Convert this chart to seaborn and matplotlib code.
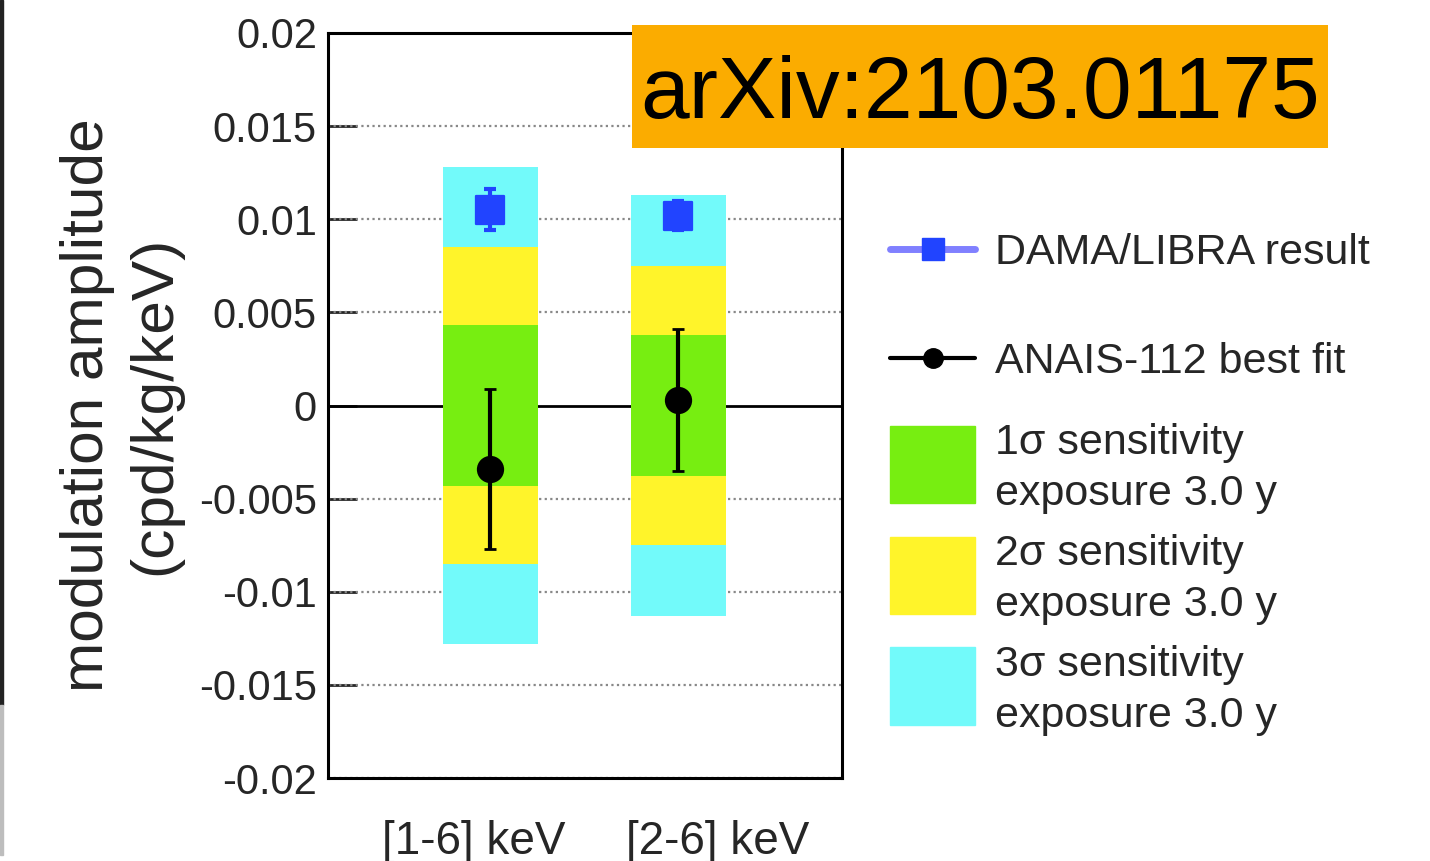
import numpy as np
import pandas as pd
import seaborn as sns
import matplotlib.pyplot as plt
from matplotlib.lines import Line2D
from matplotlib.patches import Rectangle
from matplotlib.legend_handler import HandlerPatch, HandlerLine2D
from matplotlib.transforms import ScaledTranslation

# data
ranges = ["[1-6] keV", "[2-6] keV"]
sigma1 = [0.0043, 0.0038]
sigma2 = [0.0085, 0.0075]
sigma3 = [0.0128, 0.0113]
dama_val = [0.0105, 0.0102]
dama_err = [0.0011, 0.0008]
anais_val = [-0.0034, 0.0003]
anais_err = [0.0043, 0.0038]
yticks = [-0.02, -0.015, -0.01, -0.005, 0, 0.005, 0.01, 0.015, 0.02]
yticklabels = ["-0.02", "-0.015", "-0.01", "-0.005", "0", "0.005", "0.01", "0.015", "0.02"]

c_green = "#77ee11"
c_yellow = "#fff42a"
c_cyan = "#72fafa"
c_blue = "#2144ff"

sns.set_style("white")
plt.rcParams['font.family'] = ['Liberation Sans', 'DejaVu Sans']

fig = plt.figure(figsize=(14.3, 8.61), dpi=100)
ax = fig.add_axes([328/1430, 1-778/861, 514/1430, 745/861])

x = np.arange(len(ranges))
w = 0.505
# bands, outer first
for half, col in [(sigma3, c_cyan), (sigma2, c_yellow), (sigma1, c_green)]:
    half = np.array(half)
    ax.bar(x, 2*half, bottom=-half, width=w, color=col, linewidth=0, zorder=2)

# grid lines
for t in yticks:
    if t == 0:
        ax.axhline(0, color="black", lw=2, zorder=1)
    else:
        ax.axhline(t, color="#888888", lw=1.6, ls=(0, (1, 1.5)), zorder=1)

df = pd.DataFrame({"x": x, "dama": dama_val, "anais": anais_val})
ax.errorbar(x, dama_val, yerr=dama_err, fmt="none", ecolor=c_blue, elinewidth=3,
            capsize=4, capthick=3, zorder=4)
sns.scatterplot(data=df, x="x", y="dama", marker="s", s=420, color=c_blue,
                edgecolor=c_blue, ax=ax, zorder=5)
ax.errorbar(x, anais_val, yerr=anais_err, fmt="none", ecolor="black", elinewidth=3,
            capsize=4, capthick=2, zorder=4)
sns.scatterplot(data=df, x="x", y="anais", marker="o", s=330, color="black",
                edgecolor="black", ax=ax, zorder=5)

ax.set_xlim(-0.862, 1.872)
ax.set_ylim(-0.02, 0.02)
ax.set_xticks(x)
ax.set_xticklabels(ranges, fontsize=33)
ax.set_yticks(yticks)
ax.set_yticklabels(yticklabels, fontsize=30)
ax.tick_params(axis="y", direction="in", length=21, width=2, pad=8, left=True)
ax.tick_params(axis="x", length=0, pad=30)
# ROOT-style label placement, a bit off the bar centres
for lab, dx in zip(ax.get_xticklabels(), [-16, 40]):
    lab.set_transform(lab.get_transform() + ScaledTranslation(dx/100, 0, fig.dpi_scale_trans))
ax.set_xlabel("")
ax.set_ylabel("modulation amplitude\n(cpd/kg/keV)", fontsize=43.5, labelpad=12,
              linespacing=1.28)
for s in ax.spines.values():
    s.set_color("black")
    s.set_linewidth(2.2)


def small_patch(legend, orig_handle, xdescent, ydescent, width, height, fontsize):
    h = 56
    return Rectangle((-xdescent, -ydescent + (height + ydescent - h) / 2 - 7.6), width, h)


class LowerLine(HandlerLine2D):
    # put the line level with the text in the tall legend rows
    def create_artists(self, legend, orig_handle, xdescent, ydescent, width, height,
                       fontsize, trans):
        arts = super().create_artists(legend, orig_handle, xdescent, ydescent, width,
                                      height, fontsize, trans)
        for a in arts:
            a.set_ydata(np.asarray(a.get_ydata()) - 10.8)
        return arts


handles = [
    Line2D([], [], color="#8080ff", lw=5, marker="s", markersize=16,
           markerfacecolor=c_blue, markeredgecolor=c_blue),
    Line2D([], [], color="black", lw=3, marker="o", markersize=14),
    Rectangle((0, 0), 1, 1, color=c_green),
    Rectangle((0, 0), 1, 1, color=c_yellow),
    Rectangle((0, 0), 1, 1, color=c_cyan),
]
labels = [
    "DAMA/LIBRA result",
    "ANAIS-112 best fit",
    "1σ sensitivity\nexposure 3.0 y",
    "2σ sensitivity\nexposure 3.0 y",
    "3σ sensitivity\nexposure 3.0 y",
]
leg = fig.legend(handles, labels, loc="center left", bbox_to_anchor=(890/1430, 1-472/861),
                 frameon=False, fontsize=31, handlelength=1.98, handleheight=3.0,
                 handletextpad=0.45, labelspacing=0.35, borderpad=0, borderaxespad=0,
                 handler_map={Rectangle: HandlerPatch(patch_func=small_patch),
                              Line2D: LowerLine()})
for t in leg.get_texts():
    t.set_linespacing(1.36)

# label box
fig.add_artist(Rectangle((632/1430, 1-148/861), 696/1430, 123/861,
                         transform=fig.transFigure, facecolor="#fbac00",
                         edgecolor="none", zorder=8))
fig.text(980/1430, 1-118/861, "arXiv:2103.01175", fontsize=63, color="black",
         va="baseline", ha="center", zorder=9)

# screenshot edge on the left
fig.add_artist(Rectangle((0, 1-705/861), 3/1430, 705/861, transform=fig.transFigure,
                         color="#222222", zorder=10))
fig.add_artist(Rectangle((0, 1-855/861), 3/1430, 150/861, transform=fig.transFigure,
                         color="#bdbdbd", zorder=10))

fig.savefig("out.png", dpi=100)
